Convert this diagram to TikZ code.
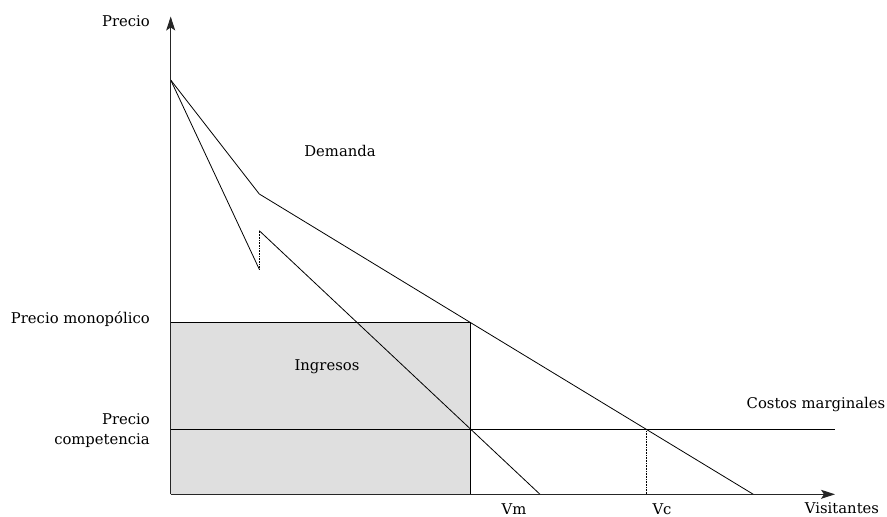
\documentclass[tikz,border=0pt]{standalone}
\usepackage{fontspec}
\setmainfont{DejaVu Serif}
\usepackage{tikz}
\usetikzlibrary{arrows.meta}
\newcommand{\mcy}{429.3}
\newcommand{\axy}{494.3}
\newcommand{\axx}{170.7}
\tikzset{lbl/.style={font=\fontsize{14.8pt}{20pt}\selectfont, inner sep=0mm}}
\tikzset{axis/.style={-{Stealth[length=14pt,width=9pt,inset=3pt]}, line width=1pt, draw=black!85}}
\tikzset{curve/.style={line width=0.8pt}}
\tikzset{guide/.style={densely dotted, line width=0.6pt}}

\begin{document}
\begin{tikzpicture}[x=1pt,y=-1pt]
\useasboundingbox (0,0) rectangle (887,517);

\coordinate (O) at (\axx,\axy);
\coordinate (top) at (\axx,80);
\coordinate (dk) at (259.3,194);
\coordinate (pm) at (470.7,322.7);
\coordinate (dend) at (753.3,\axy);
\coordinate (rlow) at (259.3,269.3);
\coordinate (rup) at (259.3,230.7);
\coordinate (rend) at (540,\axy);
\coordinate (vc) at (646,\mcy);
\coordinate (mcl) at (\axx,\mcy);
\coordinate (mcr) at (835,\mcy);
\coordinate (ytip) at (\axx,16.5);
\coordinate (xtip) at (835,\axy);

% ingresos
\fill[gray!25] (O) rectangle (pm);
\draw[curve] (\axx,322.7) -- (pm) -- (pm |- O);

% costos marginales
\draw[curve] (mcl) -- (mcr);

% demanda e ingreso marginal
\draw[curve] (top) -- (dk) -- (pm) -- (dend);
\draw[curve] (top) -- (rlow);
\draw[guide] (rlow) -- (rup);
\draw[curve] (rup) -- (rend);
\draw[guide] (vc) -- (vc |- O);

% ejes
\draw[axis] (O) -- (ytip);
\draw[axis] (O) -- (xtip);

\node[lbl, anchor=east] (precio) at (150,21) {Precio};
\node[lbl] (demanda) at (340,151) {Demanda};
\node[lbl, anchor=east] (pmono) at (150,319) {Precio monopólico};
\node[lbl, anchor=east, align=right] (pcomp) at (150,431) {Precio\\competencia};
\node[lbl] (ingresos) at (327,367) {Ingresos};
\node[lbl] (costos) at (816,405) {Costos marginales};
\node[lbl] (vm) at (514,509) {Vm};
\node[lbl] (vclbl) at (662,509) {Vc};
\node[lbl] (visit) at (842,508) {Visitantes};

\end{tikzpicture}
\end{document}
